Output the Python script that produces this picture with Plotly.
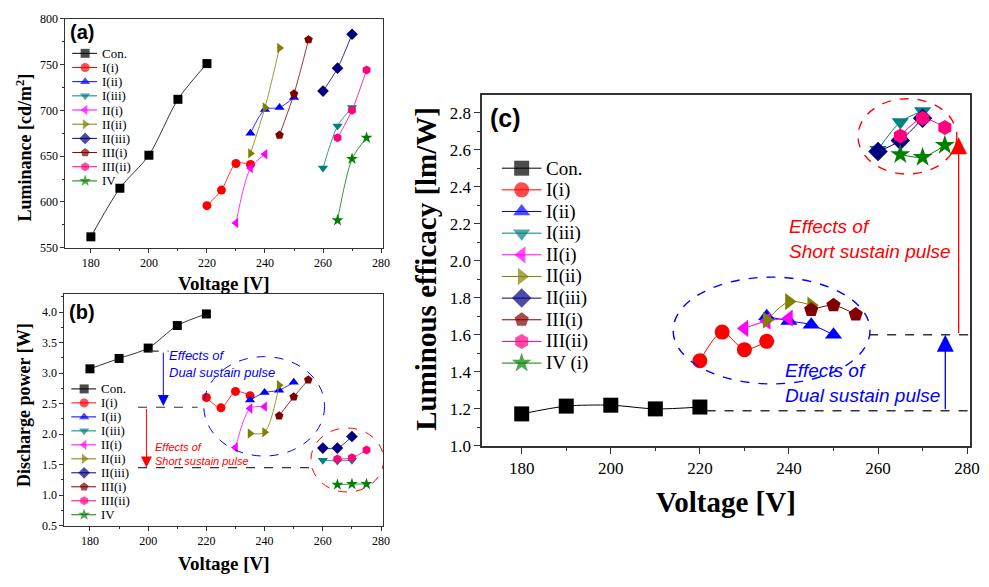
import plotly.graph_objects as go

W, H = 989, 587

# ---------------- data ----------------
names = ["Con.", "I(i)", "I(ii)", "I(iii)", "II(i)", "II(ii)", "II(iii)", "III(i)", "III(ii)", "IV"]
names_c = ["Con.", "I(i)", "I(ii)", "I(iii)", "II(i)", "II(ii)", "II(iii)", "III(i)", "III(ii)", "IV (i)"]
colors = ["#000000", "#FF0000", "#0000FF", "#008080", "#FF00FF", "#808000",
          "#000080", "#800000", "#FF0080", "#008000"]
symbols = ["square", "circle", "triangle-up", "triangle-down", "triangle-left",
           "triangle-right", "diamond", "pentagon", "hexagon", "star"]

volt_con = [180, 190, 200, 210, 220]
volt_1i = [220, 225, 230, 235]
volt_1ii = [235, 240, 245, 250]
volt_1iii = [260, 265, 270]
volt_2i = [230, 235, 240]
volt_2ii = [235, 240, 245]
volt_2iii = [260, 265, 270]
volt_3i = [245, 250, 255]
volt_3ii = [265, 270, 275]
volt_4 = [265, 270, 275]
voltages = [volt_con, volt_1i, volt_1ii, volt_1iii, volt_2i, volt_2ii,
            volt_2iii, volt_3i, volt_3ii, volt_4]

# (a) luminance [cd/m2]
lum_con = [562, 615, 651, 712, 751]
lum_1i = [596, 613, 642, 641]
lum_1ii = [675, 701, 703, 714]
lum_1iii = [637, 683, 703]
lum_2i = [577, 637, 652]
lum_2ii = [653, 703, 768]
lum_2iii = [721, 746, 783]
lum_3i = [673, 718, 777]
lum_3ii = [670, 700, 744]
lum_4 = [580, 647, 670]
luminance = [lum_con, lum_1i, lum_1ii, lum_1iii, lum_2i, lum_2ii, lum_2iii, lum_3i, lum_3ii, lum_4]

# (b) discharge power [W]
pow_con = [3.07, 3.24, 3.41, 3.78, 3.97]
pow_1i = [2.60, 2.43, 2.70, 2.63]
pow_1ii = [2.56, 2.68, 2.72, 2.85]
pow_1iii = [1.57, 1.56, 1.57]
pow_2i = [1.78, 2.42, 2.45]
pow_2ii = [2.01, 2.03, 2.80]
pow_2iii = [1.77, 1.77, 1.96]
pow_3i = [2.30, 2.61, 2.89]
pow_3ii = [1.59, 1.61, 1.74]
pow_4 = [1.17, 1.18, 1.18]
power = [pow_con, pow_1i, pow_1ii, pow_1iii, pow_2i, pow_2ii, pow_2iii, pow_3i, pow_3ii, pow_4]

# (c) luminous efficacy [lm/W]
eff_con = [1.173, 1.215, 1.22, 1.20, 1.21]
eff_1i = [1.46, 1.615, 1.52, 1.565]
eff_1ii = [1.70, 1.675, 1.655, 1.60]
eff_1iii = [2.60, 2.75, 2.81]
eff_2i = [1.635, 1.675, 1.69]
eff_2ii = [1.68, 1.78, 1.76]
eff_2iii = [2.59, 2.65, 2.77]
eff_3i = [1.735, 1.76, 1.71]
eff_3ii = [2.675, 2.77, 2.72]
eff_4 = [2.575, 2.56, 2.625]
efficacy = [eff_con, eff_1i, eff_1ii, eff_1iii, eff_2i, eff_2ii, eff_2iii, eff_3i, eff_3ii, eff_4]

# ---------------- layout helpers ----------------
def px(x):
    return x / W

def py(y):
    return 1 - y / H

SERIF = "Liberation Serif"
SANS = "Liberation Sans"

panels = {
    "a": dict(l=66, r=387, t=12, b=248),
    "b": dict(l=65, r=387, t=296, b=534),
    "c": dict(l=487, r=980, t=91, b=452),
}

fig = go.Figure()

def add_series(xref, yref, ydata, msize, lw):
    for i in range(len(names)):
        fig.add_trace(go.Scatter(
            x=voltages[i], y=ydata[i], mode="lines+markers",
            xaxis=xref, yaxis=yref, showlegend=False,
            line=dict(color=colors[i], width=lw, shape="spline", smoothing=0.8),
            marker=dict(symbol=symbols[i], size=msize, color=colors[i], line=dict(width=0)),
            cliponaxis=False,
        ))

add_series("x", "y", luminance, 9, 0.8)
add_series("x2", "y2", power, 9, 0.8)
add_series("x3", "y3", efficacy, 15, 1.0)

# manual legends on a pixel overlay axis
annotations = []

def add_legend(labels, x0, xm, x1, xt, y0, dy, msize, fsize):
    for i, lab in enumerate(labels):
        yy = y0 + i * dy
        fig.add_trace(go.Scatter(
            x=[x0, xm, x1], y=[yy, yy, yy], mode="lines+markers",
            xaxis="x4", yaxis="y4", showlegend=False, hoverinfo="skip",
            line=dict(color=colors[i], width=1),
            marker=dict(symbol=symbols[i], size=[0, msize, 0], color=colors[i], line=dict(width=0)),
        ))
        annotations.append(dict(
            x=px(xt), y=py(yy), xref="paper", yref="paper", text=lab,
            showarrow=False, xanchor="left", yanchor="middle",
            font=dict(family=SERIF, size=fsize, color="black"),
        ))

add_legend(names, 73, 86, 98, 101, 47.7, 14.6, 9, 13)
add_legend(names, 72, 85, 97, 100, 393.3, 14.4, 9, 13)
add_legend(names_c, 507, 527, 547, 550, 166, 22.3, 15, 19)

def axis(p, rng, dtick, minor_dtick, tfs, lw, tl, key):
    d = dict(range=rng, showgrid=False, zeroline=False, showline=True, mirror=True,
             linecolor="#333333", linewidth=lw, ticks="outside", ticklen=tl,
             tickcolor="#333333", tickwidth=1, dtick=dtick,
             tickfont=dict(family=SERIF, size=tfs, color="black"),
             minor=dict(dtick=minor_dtick, ticks="outside", ticklen=tl * 0.6,
                        tickcolor="#333333", showgrid=False),
             fixedrange=True)
    if key == "x":
        d["domain"] = [px(p["l"]), px(p["r"])]
        d["tick0"] = 180
    else:
        d["domain"] = [py(p["b"]), py(p["t"])]
    return d

pa, pb, pc = panels["a"], panels["b"], panels["c"]
layout = dict(
    width=W, height=H, margin=dict(l=0, r=0, t=0, b=0),
    paper_bgcolor="white", plot_bgcolor="rgba(0,0,0,0)", showlegend=False,
    xaxis=dict(axis(pa, [171.2, 280.7], 20, 10, 12, 1, 4, "x"), anchor="y"),
    yaxis=dict(axis(pa, [550, 800], 50, 25, 12, 1, 4, "y"), anchor="x"),
    xaxis2=dict(axis(pb, [171.2, 280.7], 20, 10, 12, 1, 4, "x"), anchor="y2"),
    yaxis2=dict(axis(pb, [0.5, 4.29], 0.5, 0.25, 12, 1, 4, "y"), anchor="x2", tickformat=".1f"),
    xaxis3=dict(axis(pc, [171.1, 280.67], 20, 10, 17, 1.6, 6, "x"), anchor="y3"),
    yaxis3=dict(axis(pc, [1.0, 2.894], 0.2, 0.1, 17, 1.6, 6, "y"), anchor="x3", tickformat=".1f"),
    xaxis4=dict(domain=[0, 1], range=[0, W], visible=False, fixedrange=True, anchor="y4"),
    yaxis4=dict(domain=[0, 1], range=[H, 0], visible=False, fixedrange=True, anchor="x4"),
)
layout["yaxis2"]["tick0"] = 0.5
layout["yaxis"]["tick0"] = 550
layout["yaxis3"]["tick0"] = 1.0

# titles and panel labels
def text_ann(x, y, text, size, bold=True, family=SERIF, angle=0, color="black", italic=False, xanchor="center"):
    t = text
    if bold:
        t = "<b>" + t + "</b>"
    if italic:
        t = "<i>" + t + "</i>"
    annotations.append(dict(x=px(x), y=py(y), xref="paper", yref="paper", text=t,
                            showarrow=False, textangle=angle, xanchor=xanchor, yanchor="middle",
                            font=dict(family=family, size=size, color=color)))

text_ann(226, 285, "Voltage [V]", 19)
text_ann(25, 145, "Luminance [cd/m<sup>2</sup>]", 18, angle=-90)
text_ann(226, 573, "Voltage [V]", 19)
text_ann(24, 410, "Discharge power [W]", 18, angle=-90)
text_ann(733, 510, "Voltage [V]", 29)
text_ann(431, 270, "Luminous efficacy [lm/W]", 29, angle=-90)
text_ann(83, 26, "(a)", 20, family=SANS)
text_ann(83, 314, "(b)", 20, family=SANS)
text_ann(511, 114, "(c)", 25, family=SANS)

# in-plot annotation texts (data coordinates)
def data_text(xr, yr, x, y, text, size, color):
    annotations.append(dict(x=x, y=y, xref=xr, yref=yr, text="<i>" + text + "</i>",
                            showarrow=False, xanchor="left", yanchor="middle", align="left",
                            font=dict(family=SANS, size=size, color=color)))

data_text("x2", "y2", 206.6, 3.155, "Effects of<br>Dual sustain pulse", 13, "#0000FF")
data_text("x2", "y2", 201.8, 1.68, "Effects of<br>Short sustain pulse", 11, "#FF0000")
data_text("x3", "y3", 239.6, 2.118, "Effects of<br>Short sustain pulse", 19, "#FF0000")
data_text("x3", "y3", 238.7, 1.34, "Effects of<br>Dual sustain pulse", 19, "#0000FF")

def arrow(xr, yr, x, y0, y1, color, width, size):
    annotations.append(dict(x=x, y=y1, ax=x, ay=y0, xref=xr, yref=yr, axref=xr, ayref=yr,
                            text="", showarrow=True, arrowhead=2, arrowsize=size,
                            arrowwidth=width, arrowcolor=color, standoff=0))

arrow("x2", "y2", 205.2, 3.36, 2.46, "#0000FF", 1, 2.2)
arrow("x2", "y2", 199.4, 2.44, 1.45, "#FF0000", 1, 2.2)
arrow("x3", "y3", 275.1, 1.19, 1.60, "#0000FF", 1.3, 2.6)
arrow("x3", "y3", 278.1, 1.60, 2.667, "#FF0000", 1.3, 2.6)

shapes = []

def dline(xr, yr, x0, x1, y, color="#333333", w=1.2):
    shapes.append(dict(type="line", xref=xr, yref=yr, x0=x0, x1=x1, y0=y, y1=y,
                       line=dict(color=color, width=w, dash="dash")))

def ellipse(xr, yr, x0, x1, y0, y1, color, w):
    shapes.append(dict(type="circle", xref=xr, yref=yr, x0=x0, x1=x1, y0=y0, y1=y1,
                       line=dict(color=color, width=w, dash="dash")))

dline("x2", "y2", 200.5, 207.0, 3.36)
dline("x2", "y2", 196.5, 217.0, 2.44)
dline("x2", "y2", 196.5, 255.8, 1.45)
dline("x3", "y3", 221.5, 280.67, 1.19, w=1.5)
dline("x3", "y3", 258.0, 280.67, 1.60, w=1.5)
ellipse("x2", "y2", 219.1, 260.6, 1.64, 3.27, "#0000FF", 1)
ellipse("x2", "y2", 255.9, 280.9, 1.05, 2.10, "#FF0000", 1)
ellipse("x3", "y3", 214.0, 258.2, 1.335, 1.912, "#0000FF", 1.4)
ellipse("x3", "y3", 255.5, 277.7, 2.469, 2.876, "#FF0000", 1.4)

layout["annotations"] = annotations
layout["shapes"] = shapes
fig.update_layout(**layout)

fig.write_html("out.html")
